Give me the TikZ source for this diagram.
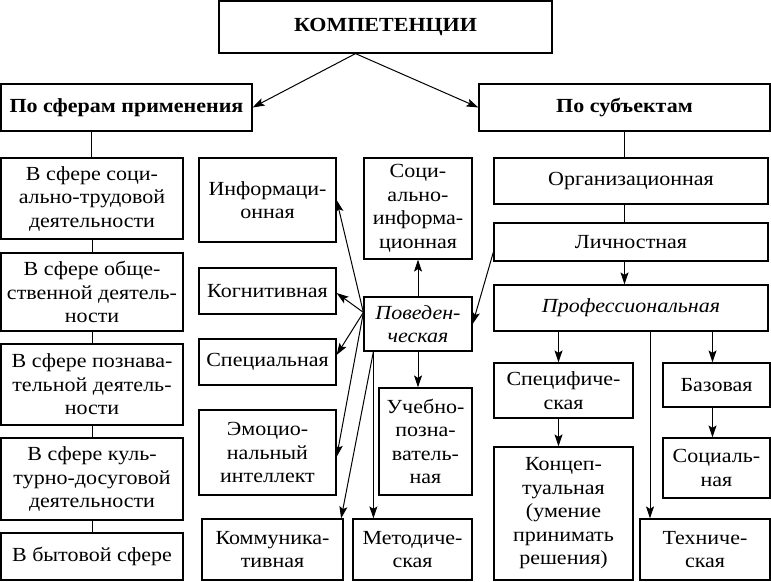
\documentclass[tikz,border=0pt]{standalone}
\usepackage{fontspec}
\setmainfont{Liberation Serif}[FakeStretch=1.1]
\usetikzlibrary{arrows.meta}
\begin{document}
\begin{tikzpicture}[x=1pt,y=-1pt,
  box/.style={draw,line width=1.2pt,align=center,inner sep=0pt,font=\fontsize{20}{23.5}\selectfont},
  head/.style={box,font=\fontsize{20}{23.5}\selectfont\bfseries},
  wh/.style 2 args={minimum width=#1,minimum height=#2},
  arr/.style={-{Stealth[length=12pt,width=8pt,inset=2.5pt]},line width=1pt},
  ln/.style={line width=1pt}]
\useasboundingbox (0,0) rectangle (771,581);
\node[head,wh={333}{52}] (komp) at (385.5,27) {КОМПЕТЕНЦИИ};
\node[head,wh={251}{47}] (sfery) at (126.5,107.5) {По сферам применения};
\node[head,wh={291}{47}] (subj) at (624.5,107.5) {По субъектам};
\node[box,wh={182}{81}] (trud) at (92,198.5) {В сфере соци-\\ально-трудовой\\деятельности};
\node[box,wh={182}{78}] (obsch) at (92,292) {В сфере обще-\\ственной деятель-\\ности};
\node[box,wh={182}{81}] (pozn) at (92,384.5) {В сфере познава-\\тельной деятель-\\ности};
\node[box,wh={182}{82}] (kult) at (92,479) {В сфере куль-\\турно-досуговой\\деятельности};
\node[box,wh={182}{47}] (byt) at (92,556.5) {В бытовой сфере};
\node[box,wh={137}{84}] (inf) at (267.5,200) {Информаци-\\онная};
\node[box,wh={137}{46}] (kog) at (267.5,291) {Когнитивная};
\node[box,wh={137}{46}] (spec) at (267.5,362) {Специальная};
\node[box,wh={137}{85}] (emo) at (267.5,452.5) {Эмоцио-\\нальный\\интеллект};
\node[box,wh={141}{61}] (kom) at (272.5,549.5) {Коммуника-\\тивная};
\node[box,wh={119}{61}] (met) at (412.5,549.5) {Методиче-\\ская};
\node[box,wh={108}{101}] (socinf) at (418,208.5) {Соци-\\ально-\\информа-\\ционная};
\node[box,wh={108}{54},font=\fontsize{20}{23.5}\selectfont\itshape] (pov) at (418,324) {Поведен-\\ческая};
\node[box,wh={93}{107}] (ucheb) at (425.5,441.5) {Учебно-\\позна-\\ватель-\\ная};
\node[box,wh={274}{46}] (org) at (631,181) {Организационная};
\node[box,wh={274}{38}] (lich) at (631,242) {Личностная};
\node[box,wh={274}{46},font=\fontsize{20}{23.5}\selectfont\itshape] (prof) at (631,308) {Профессиональная};
\node[box,wh={139}{55}] (specif) at (563.5,390.5) {Специфиче-\\ская};
\node[box,wh={139}{133}] (konc) at (563.5,513.5) {Концеп-\\туальная\\(умение\\принимать\\решения)};
\node[box,wh={107}{44}] (baz) at (716.5,385) {Базовая};
\node[box,wh={107}{60}] (socl) at (716.5,468) {Социаль-\\ная};
\node[box,wh={130}{61}] (tech) at (705,549.5) {Техниче-\\ская};
\draw[arr] ([xshift=-30]komp.south) -- (sfery.east);
\draw[arr] ([xshift=-30]komp.south) -- (subj.west);
\draw[ln] ([xshift=-35]sfery.south) -- ([xshift=-35]sfery.south |- trud.north);
\draw[ln] (trud) -- (obsch);
\draw[ln] (obsch) -- (pozn);
\draw[ln] (pozn) -- (kult);
\draw[ln] (kult) -- (byt);
\draw[ln] (subj.south) -- (subj.south |- org.north);
\draw[ln] (subj.south |- org.south) -- (subj.south |- lich.north);
\draw[arr] (subj.south |- lich.south) -- (subj.south |- prof.north);
\draw[arr] ([xshift=-5]specif.north |- prof.south) -- ([xshift=-5]specif.north);
\draw[arr] ([xshift=-4]baz.north |- prof.south) -- ([xshift=-4]baz.north);
\draw[arr] ([xshift=-55]tech.north |- prof.south) -- ([xshift=-55]tech.north);
\draw[arr] ([xshift=-5]specif.south) -- ([xshift=-5]konc.north -| specif.south);
\draw[arr] ([xshift=-4]baz.south) -- ([xshift=-4]socl.north -| baz.south);
\draw[arr] ([yshift=-10]lich.west) -- (pov.east);
\draw[arr] (pov) -- (socinf);
\draw[arr] (pov) -- (ucheb.north -| pov.south);
\coordinate (pl) at ([yshift=-16]pov.north west);
\coordinate (pb) at ([xshift=10]pov.south west);
\draw[arr] (pl) -- (inf.east);
\draw[arr] (pl) -- ([yshift=-2]kog.east);
\draw[arr] (pl) -- ([yshift=7]spec.east);
\draw[arr] (pl) -- ([yshift=-4.5]emo.east);
\draw[arr] (pb) -- ([xshift=-2.5]kom.north east);
\draw[arr] (pb) -- (pb |- met.north);
\end{tikzpicture}
\end{document}
